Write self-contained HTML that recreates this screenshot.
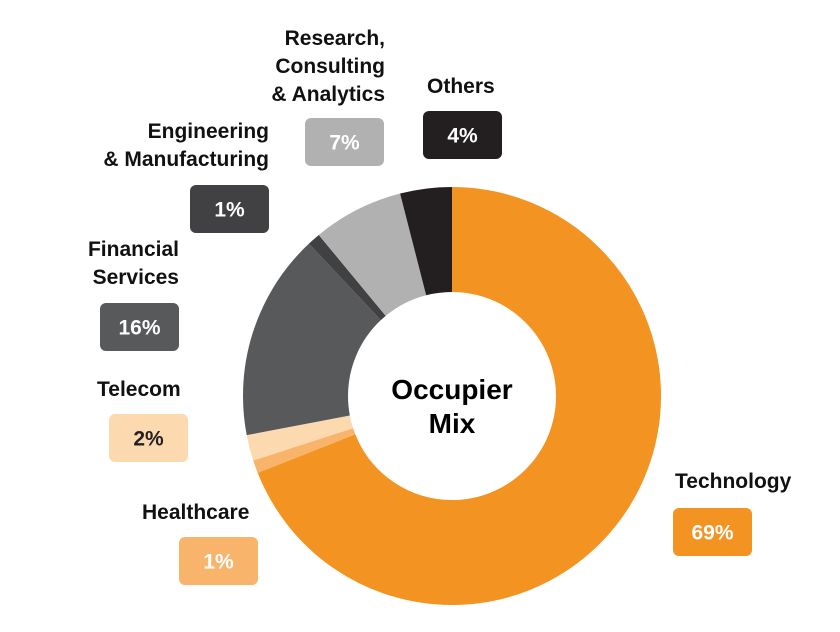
<!DOCTYPE html>
<html><head><meta charset="utf-8"><style>
html,body{margin:0;padding:0;background:#fff;}
svg text{font-family:"Liberation Sans",sans-serif;font-weight:bold;}
</style></head><body>
<svg width="840" height="627" viewBox="0 0 840 627" xmlns="http://www.w3.org/2000/svg">
<g transform="rotate(-90 452 396)" fill="none" stroke-width="105">
<circle cx="452" cy="396" r="156.5" pathLength="100" stroke="#f39322" stroke-dasharray="69 31" stroke-dashoffset="0"/>
<circle cx="452" cy="396" r="156.5" pathLength="100" stroke="#f9b46b" stroke-dasharray="1 99" stroke-dashoffset="-69"/>
<circle cx="452" cy="396" r="156.5" pathLength="100" stroke="#fdd9b0" stroke-dasharray="2 98" stroke-dashoffset="-70"/>
<circle cx="452" cy="396" r="156.5" pathLength="100" stroke="#58595b" stroke-dasharray="16 84" stroke-dashoffset="-72"/>
<circle cx="452" cy="396" r="156.5" pathLength="100" stroke="#414042" stroke-dasharray="1 99" stroke-dashoffset="-88"/>
<circle cx="452" cy="396" r="156.5" pathLength="100" stroke="#b1b1b1" stroke-dasharray="7 93" stroke-dashoffset="-89"/>
<circle cx="452" cy="396" r="156.5" pathLength="100" stroke="#231f20" stroke-dasharray="4 96" stroke-dashoffset="-96"/>
</g>
<text x="452" y="399" font-size="28" text-anchor="middle" fill="#000">Occupier</text>
<text x="452" y="433" font-size="28" text-anchor="middle" fill="#000">Mix</text>

<g font-size="21" fill="#111">
<text x="675" y="488">Technology</text>
<text x="142" y="519">Healthcare</text>
<text x="97" y="396">Telecom</text>
<text x="179" y="256" text-anchor="end">Financial</text>
<text x="179" y="284" text-anchor="end">Services</text>
<text x="269" y="138" text-anchor="end">Engineering</text>
<text x="269" y="166" text-anchor="end">&amp; Manufacturing</text>
<text x="385" y="45" text-anchor="end">Research,</text>
<text x="385" y="73" text-anchor="end">Consulting</text>
<text x="385" y="101" text-anchor="end">&amp; Analytics</text>
<text x="427" y="93">Others</text>
</g>

<g font-size="21" text-anchor="middle">
<rect x="673" y="508" width="79" height="48" rx="6" fill="#f39322"/><text x="712.5" y="539.5" fill="#fff">69%</text>
<rect x="179" y="537" width="79" height="48" rx="6" fill="#f9b46b"/><text x="218.5" y="568.5" fill="#fff">1%</text>
<rect x="109" y="414" width="79" height="48" rx="6" fill="#fdd9b0"/><text x="148.5" y="445.5" fill="#222">2%</text>
<rect x="100" y="303" width="79" height="48" rx="6" fill="#58595b"/><text x="139.5" y="334.5" fill="#fff">16%</text>
<rect x="190" y="185" width="79" height="48" rx="6" fill="#414042"/><text x="229.5" y="216.5" fill="#fff">1%</text>
<rect x="305" y="118" width="79" height="48" rx="6" fill="#b1b1b1"/><text x="344.5" y="149.5" fill="#fff">7%</text>
<rect x="423" y="111" width="79" height="48" rx="6" fill="#231f20"/><text x="462.5" y="142.5" fill="#fff">4%</text>
</g>
</svg>
</body></html>
